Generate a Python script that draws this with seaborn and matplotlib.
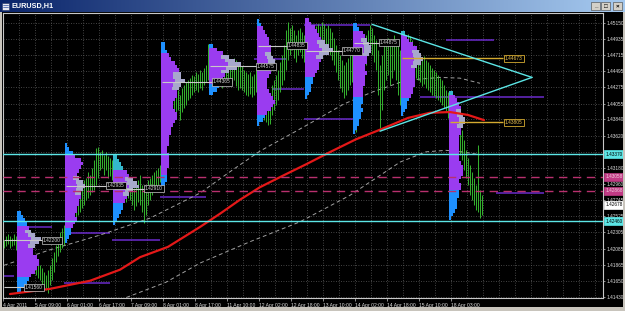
import numpy as np
import pandas as pd
import matplotlib
matplotlib.use("Agg")
import matplotlib.pyplot as plt
import seaborn as sns
from matplotlib.patches import Rectangle
from matplotlib.colors import LinearSegmentedColormap

# ---------------- data (prices stored in points above 1.4000, 1 pt = 0.0001) -------------
hi_pts = [
    220, 226, 228, 226, 223, 228, 226,
    223, 220, 218, 214, 210, 207, 204, 199, 200, 196, 190, 186, 182, 177, 173, 180, 186, 196, 204, 214, 220, 231, 237, 241,
    254, 258, 261, 268, 267, 275, 277, 281, 291, 302, 305, 313, 309, 318, 329, 345, 347, 340, 342, 336, 340, 334, 332, 329,
    322, 318, 315, 309, 305, 302, 299, 302, 298, 295, 291, 294, 302, 309, 295, 288, 291, 302, 305, 309, 313, 315, 318, 322,
    313, 322, 383, 403, 410, 413, 417, 421, 424, 417, 427, 431, 435, 437, 440, 444, 443, 448, 446, 451, 448, 454, 458, 486,
    478, 471, 467, 465, 470, 467, 462, 465, 470, 467, 462, 465, 467, 465, 462, 458, 456, 451, 448, 446, 448, 443, 446, 451,
    440, 431, 424, 417, 413, 410, 417, 431, 437, 444, 451, 462, 471, 485, 505, 516, 508, 512, 505, 498, 505, 508, 503, 498,
    503, 508, 512, 508, 505, 511, 513, 511, 516, 513, 508, 512, 508, 503, 494, 485, 478, 471, 465, 458, 462, 467, 471, 478,
    465, 444, 451, 471, 485, 492, 498, 505, 512, 508, 498, 492, 478, 458, 471, 485, 492, 494, 485, 492, 498, 492, 485, 478,
    492, 498, 494, 500, 497, 492, 485, 481, 475, 471, 467, 470, 465, 462, 458, 454, 451, 448, 444, 440, 437, 431, 424, 421,
    417, 397, 390, 386, 383, 376, 370, 356, 342, 332, 322, 313, 305, 295, 349, 288, 281,
]
lo_pts = [
    210, 212, 215, 210, 212, 214, 207,
    207, 204, 199, 196, 190, 188, 182, 180, 177, 173, 169, 166, 159, 155, 152, 148, 159, 166, 177, 190, 199, 204, 210, 214,
    227, 234, 237, 241, 245, 247, 254, 258, 264, 268, 275, 277, 281, 285, 288, 295, 305, 315, 318, 309, 315, 305, 307, 302,
    295, 291, 285, 281, 277, 275, 272, 277, 275, 268, 261, 267, 272, 268, 258, 243, 254, 268, 275, 281, 285, 291, 295, 299,
    291, 295, 304, 370, 376, 383, 386, 390, 397, 383, 394, 399, 404, 410, 413, 417, 421, 424, 421, 427, 424, 431, 435, 437,
    440, 437, 435, 431, 437, 432, 427, 431, 437, 435, 429, 432, 437, 429, 424, 427, 424, 421, 417, 416, 418, 414, 417, 421,
    410, 397, 390, 383, 380, 376, 378, 390, 397, 404, 410, 421, 431, 437, 451, 465, 471, 478, 467, 462, 471, 475, 467, 462,
    467, 475, 481, 478, 471, 478, 485, 481, 489, 485, 478, 481, 471, 465, 458, 448, 437, 427, 421, 413, 417, 424, 431, 435,
    397, 367, 383, 410, 431, 444, 458, 471, 478, 471, 462, 451, 417, 372, 397, 424, 437, 444, 431, 440, 451, 437, 417, 404,
    451, 462, 458, 467, 462, 454, 448, 440, 437, 435, 429, 432, 427, 424, 421, 417, 416, 413, 410, 408, 404, 399, 394, 386,
    383, 376, 372, 363, 349, 336, 329, 315, 305, 295, 281, 275, 268, 261, 258, 250, 254,
]

# daily volume profiles: start bar, top level (pts), row widths (bars), 5-pt rows
prof_start = [7, 31, 55, 79, 103, 127, 151, 175, 199, 223]
prof_top = [257, 349, 333, 486, 484, 518, 519, 512, 501, 420]
prof_w1 = [2, 3, 4, 5, 6, 7, 9, 12, 11, 9, 8, 8, 10, 11, 11, 10, 9, 7, 6, 5, 4, 2]
prof_w2 = [1, 2, 4, 5, 8, 9, 8, 7, 6, 7, 9, 10, 9, 8, 8, 7, 7, 6, 6, 5, 6, 5, 4, 3, 3, 2, 1]
prof_w3 = [2, 3, 4, 5, 7, 8, 10, 12, 13, 10, 8, 7, 6, 5, 5, 4, 3, 2, 1]
prof_w4 = [2, 2, 3, 4, 5, 7, 8, 9, 10, 10, 12, 10, 9, 8, 8, 7, 6, 6, 7, 8, 8, 7, 6, 5, 5, 4, 4, 4, 3, 3,
           4, 4, 4, 4, 3, 3, 3, 3, 2, 1]
prof_w5 = [2, 4, 7, 10, 13, 16, 14, 10, 8, 7, 6, 5, 4, 2]
prof_w6 = [1, 2, 3, 4, 5, 6, 6, 7, 7, 7, 8, 9, 9, 8, 7, 6, 5, 5, 5, 6, 7, 8, 9, 8, 7, 5, 4, 3, 1]
prof_w7 = [2, 3, 5, 6, 7, 8, 10, 12, 14, 12, 9, 8, 7, 7, 6, 5, 4, 4, 3, 3, 2, 1]
prof_w8 = [2, 3, 5, 6, 7, 8, 9, 9, 8, 7, 7, 6, 6, 7, 6, 6, 6, 5, 5, 5, 5, 5, 4, 5, 4, 4, 3, 3, 2, 1]
prof_w9 = [2, 3, 4, 6, 8, 9, 10, 11, 10, 8, 7, 7, 7, 7, 7, 6, 6, 5, 4, 3, 3, 2, 1]
prof_w10 = [2, 3, 4, 5, 6, 6, 7, 8, 8, 7, 6, 6, 5, 5, 5, 5, 5, 5, 5, 6, 7, 7, 7, 6, 5, 6, 6, 5, 5, 4,
            4, 4, 3, 2, 1]
prof_top_tail = [4, 3, 4, 3, 1, 2, 0, 2, 1, 1]
prof_bot_tail = [4, 4, 6, 4, 3, 3, 6, 10, 5, 8]
prof_top_color = ["#1E90FF", "#1E90FF", "#34B8CC", "#1E90FF", "#1E90FF", "#1E90FF", "#1E90FF",
                  "#1E90FF", "#34B8CC", "#34B8CC"]

# moving average and envelope lines
ma_bar = [3, 23, 43, 58, 68, 82, 98, 108, 118, 128, 139, 151, 164, 176, 188, 202, 213, 223, 232, 240]
ma_pts = [147, 154, 165, 180, 197, 211, 238, 256, 275, 292, 307, 323, 341, 357, 370, 386, 393, 394, 390, 383]
up_bar = [0, 23, 48, 73, 98, 113, 128, 150, 170, 184, 201, 218, 228, 238]
up_pts = [186, 207, 227, 250, 284, 313, 341, 374, 405, 421, 437, 441, 440, 433]
lw_bar = [58, 81, 98, 123, 148, 173, 198, 211, 221, 229, 238]
lw_pts = [139, 163, 189, 218, 245, 281, 326, 340, 342, 340, 336]

# triangle
tri_bar = [184, 264, 188]
tri_pts = [513, 441, 368]

# horizontal levels
cyan_pts = [337, 246]
pink_pts = [306, 287]
seg_pts = [512, 492, 414, 466, 425, 384, 279, 238, 230, 220, 172, 162, 284]
seg_b0 = [150, 221, 208, 125, 134, 150, 78, 10, 33, 54, 0, 30, 246]
seg_b1 = [183, 245, 270, 141, 150, 175, 101, 24, 53, 78, 5, 53, 270]
poc_pts = [220, 156, 294, 290, 435, 456, 484, 477, 488]
poc_b0 = [0, 0, 31, 55, 79, 103, 127, 151, 175]
poc_b1 = [19.5, 10.5, 51.5, 70.5, 104.5, 126.5, 142, 169.5, 188]
poc_txt = ["1.42200", "1.41560", "1.42935", "1.42910", "1.44365", "1.44575", "1.44835", "1.44770", "1.44875"]
gold_pts = [467, 380]
gold_b0 = [199, 223]
gold_b1 = [249.5, 249.5]
gold_txt = ["1.44673", "1.43805"]

ytick_vals = [1.45150, 1.44935, 1.44715, 1.44495, 1.44275, 1.44055, 1.43840, 1.43620, 1.43400,
              1.43180, 1.42960, 1.42745, 1.42525, 1.42305, 1.42085, 1.41865, 1.41650, 1.41430]
ytick_hidden = [1.43400]
xtick_pos = [-0.5, 15.5, 31.5, 47.5, 63.5, 79.5, 95.5, 111.5, 127.5, 143.5, 159.5, 175.5, 191.5, 207.5, 223.5]
xtick_lab = ["4 Apr 2011", "5 Apr 09:00", "6 Apr 01:00", "6 Apr 17:00", "7 Apr 09:00", "8 Apr 01:00",
             "8 Apr 17:00", "11 Apr 10:00", "12 Apr 02:00", "12 Apr 18:00", "13 Apr 10:00",
             "14 Apr 02:00", "14 Apr 18:00", "15 Apr 10:00", "18 Apr 03:00"]
axis_boxes = [(337, "1.43370", "#5CE6E6", "black"), (306, "1.43058", "#C03A84", "#F0D0E0"),
              (287, "1.42868", "#C03A84", "#F0D0E0"), (268, "1.42678", "white", "black"),
              (246, "1.42460", "#5CE6E6", "black")]

# ---------------- figure ----------------
sns.set_theme(style="dark")
plt.rcParams["font.family"] = ["Liberation Sans", "DejaVu Sans"]

W, H = 625, 311
fig = plt.figure(figsize=(W / 100, H / 100), dpi=100, facecolor="black")


def px_box(x0, y0, x1, y1):
    return [x0 / W, 1 - y1 / H, (x1 - x0) / W, (y1 - y0) / H]


def P(v):
    return 1.4 + np.asarray(v, dtype=float) / 10000.0


ax = fig.add_axes(px_box(3, 13, 603, 298))
ax.set_facecolor("black")
ax.set_xlim(-0.5, 299.5)
ax.set_ylim(P(141.6), P(528.4))
ax.grid(False)

# grid
for v in ytick_vals:
    ax.axhline(v, color="#5A5A5A", lw=0.6, ls=(0, (1, 2)), zorder=0)
for b in np.arange(7.5, 300, 8):
    ax.axvline(b, color="#5A5A5A", lw=0.6, ls=(0, (1, 2)), zorder=0)

# purple naked-POC segments
ax.hlines(P(seg_pts), seg_b0, seg_b1, color="#6A2ACB", lw=1.1, zorder=2)

# envelopes & moving average via seaborn
up_df = pd.DataFrame({"bar": up_bar, "price": P(up_pts)})
lw_df = pd.DataFrame({"bar": lw_bar, "price": P(lw_pts)})
ma_df = pd.DataFrame({"bar": ma_bar, "price": P(ma_pts)})
sns.lineplot(data=up_df, x="bar", y="price", ax=ax, color="#A0A0A0", lw=0.7,
             linestyle=(0, (4, 3)), zorder=3, sort=False)
sns.lineplot(data=lw_df, x="bar", y="price", ax=ax, color="#A0A0A0", lw=0.7,
             linestyle=(0, (4, 3)), zorder=3, sort=False)

# price bars
ax.vlines(np.arange(len(hi_pts)), P(lo_pts), P(hi_pts), color="#3ED236", lw=0.6, zorder=4)

# volume profiles (drawn over the bars)
profiles = [prof_w1, prof_w2, prof_w3, prof_w4, prof_w5, prof_w6, prof_w7, prof_w8, prof_w9, prof_w10]
for k, widths in enumerate(profiles):
    w = np.array(widths, dtype=float)
    n = len(w)
    lv = P(prof_top[k] - 5 * np.arange(n))
    cols = []
    for i in range(n):
        if i < prof_top_tail[k]:
            cols.append(prof_top_color[k])
        elif i >= n - prof_bot_tail[k]:
            cols.append("#1E90FF")
        else:
            cols.append("#9A3CF0")
    left = prof_start[k] - 0.5
    ax.barh(lv, w, left=left, height=0.0005, color=cols, linewidth=0, zorder=5)
    im = int(np.argmax(w))
    sel = np.arange(max(0, im - 2), min(n, im + 3))
    ax.barh(lv[sel], w[sel] * 0.4, left=left + w[sel] * 0.6, height=0.0005,
            color="#A8A8CC", linewidth=0, zorder=5.2)

sns.lineplot(data=ma_df, x="bar", y="price", ax=ax, color="#E41818", lw=1.6, zorder=5.5, sort=False)

# POC label lines
for p, b0, b1, t in zip(poc_pts, poc_b0, poc_b1, poc_txt):
    ax.hlines(P(p), b0, b1, color="#C8C8C8", lw=0.8, zorder=6)
    ax.text(b1, P(p), t, fontsize=3.5, color="#D8D8D8", va="center", ha="left", zorder=8,
            bbox=dict(boxstyle="square,pad=0.25", fc="black", ec="#C8C8C8", lw=0.5))
for p, b0, b1, t in zip(gold_pts, gold_b0, gold_b1, gold_txt):
    ax.hlines(P(p), b0, b1, color="#D4AA30", lw=1.0, zorder=6)
    ax.text(b1 + 1, P(p), t, fontsize=3.5, color="#E8C050", va="center", ha="left", zorder=8,
            bbox=dict(boxstyle="square,pad=0.25", fc="black", ec="#D4AA30", lw=0.6))

# levels
for p in cyan_pts:
    ax.axhline(P(p), color="#5CE6E6", lw=1.0, zorder=7)
for p in pink_pts:
    ax.axhline(P(p), color="#B8306E", lw=1.0, ls=(0, (6, 4)), zorder=7)

# triangle
ax.plot([tri_bar[0], tri_bar[1]], P([tri_pts[0], tri_pts[1]]), color="#5CE6E6", lw=1.0, zorder=7)
ax.plot([tri_bar[2], tri_bar[1]], P([tri_pts[2], tri_pts[1]]), color="#5CE6E6", lw=1.0, zorder=7)

# axes styling
for s in ax.spines.values():
    s.set_color("#C8C8C8")
    s.set_linewidth(0.8)
ax.yaxis.tick_right()
ax.set_yticks(ytick_vals, ["" if v in ytick_hidden else f"{v:.5f}" for v in ytick_vals])
ax.tick_params(axis="y", right=True, left=False, length=1.5, width=0.5, color="#C8C8C8",
               labelsize=3.4, labelcolor="#E0E0E0", pad=0.8)
ax.set_xticks(xtick_pos, xtick_lab)
ax.tick_params(axis="x", bottom=True, length=2, width=0.5, color="#C8C8C8",
               labelsize=3.6, labelcolor="#E0E0E0", pad=1.5)
for lab in ax.get_xticklabels():
    lab.set_horizontalalignment("left")
ax.set_xlabel("")
ax.set_ylabel("")

ytr = ax.get_yaxis_transform()
for p, t, fc, tc in axis_boxes:
    ax.text(1.0035, P(p), t, transform=ytr, fontsize=3.4, color=tc, va="center", ha="left",
            zorder=9, clip_on=False,
            bbox=dict(boxstyle="square,pad=0.25", fc=fc, ec=fc, lw=0.5))

# window chrome
tb = fig.add_axes(px_box(0, 0, 625, 12))
grad = np.linspace(0, 1, 256)[None, :]
cmap = LinearSegmentedColormap.from_list("tb", ["#0A246A", "#A6CAF0"])
tb.imshow(grad, aspect="auto", cmap=cmap, extent=[0, 625, 12, 0])
tb.set_xlim(0, 625)
tb.set_ylim(12, 0)
tb.axis("off")
tb.add_patch(Rectangle((2, 2.5), 7, 7, fc="#E8E8F0", ec="#203060", lw=0.4))
tb.plot([3, 8], [5, 5], color="#3050A0", lw=0.5)
tb.plot([3, 8], [7, 7], color="#3050A0", lw=0.5)
tb.text(12, 6.2, "EURUSD,H1", color="white", fontsize=5.2, fontweight="bold", va="center", ha="left")
for x0, g in zip([591, 601, 613], ["_", "\u25a1", "\u00d7"]):
    tb.add_patch(Rectangle((x0, 2), 9, 8, fc="#D4D0C8", ec="#404040", lw=0.4))
    tb.text(x0 + 4.5, 6, g, fontsize=4.5, color="black", ha="center", va="center", fontweight="bold")

for rect in [(0, 0, 2 / W, 1 - 12 / H), (1 - 2 / W, 0, 2 / W, 1 - 12 / H), (0, 0, 1, 4 / H)]:
    fig.patches.append(Rectangle(rect[:2], rect[2], rect[3], transform=fig.transFigure,
                                 fc="#C8C4BC", ec="none", zorder=10))

fig.savefig("out.png", dpi=100, facecolor="black")
